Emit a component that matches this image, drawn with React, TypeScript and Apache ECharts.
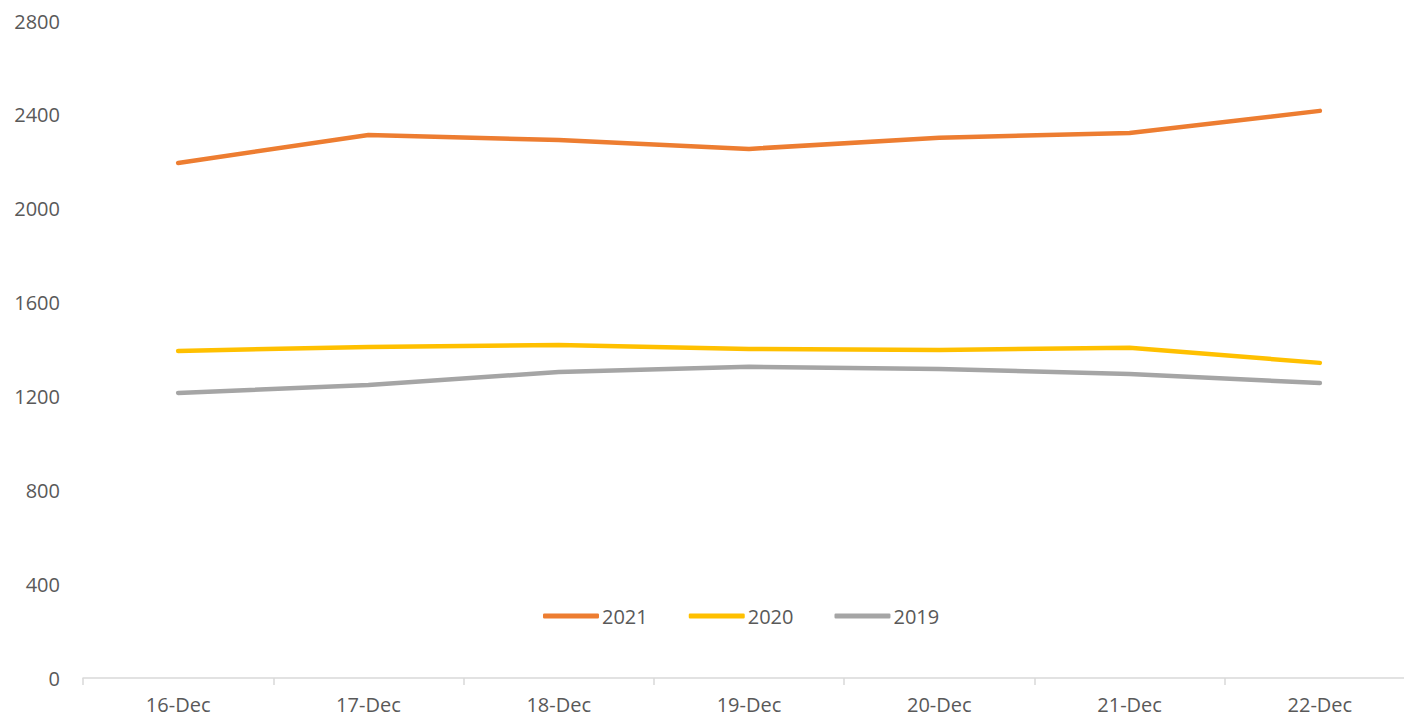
import React, { useEffect, useRef } from "react";
import * as echarts from "echarts";

const categories = ["16-Dec", "17-Dec", "18-Dec", "19-Dec", "20-Dec", "21-Dec", "22-Dec"];
const s2021 = [2195, 2314, 2293, 2255, 2302, 2323, 2417];
const s2020 = [1394, 1411, 1419, 1402, 1398, 1407, 1343];
const s2019 = [1215, 1249, 1304, 1326, 1317, 1296, 1257];
const yTicks = [0, 400, 800, 1200, 1600, 2000, 2400, 2800];

const FONT = "'Open Sans', 'Liberation Sans', sans-serif";
const TXT = "#595959";

export default function App() {
  const ref = useRef<HTMLDivElement>(null);
  useEffect(() => {
    if (!ref.current) return;
    const chart = echarts.init(ref.current, undefined, { renderer: "svg" });
    const mk = (name: string, data: number[], color: string) => ({
      name,
      type: "line",
      data,
      symbol: "none",
      smooth: false,
      lineStyle: { color, width: 4.5, cap: "round", join: "round" },
      itemStyle: { color },
    });
    chart.setOption({
      animation: false,
      backgroundColor: "#ffffff",
      textStyle: { fontFamily: FONT },
      grid: { left: 83, top: 21, width: 1332, height: 657, containLabel: false },
      legend: {
        data: ["2021", "2020", "2019"],
        left: 538,
        top: 601,
        icon: "roundRect",
        itemWidth: 56,
        itemHeight: 5,
        itemGap: 41,
        textStyle: { color: TXT, fontSize: 20, fontFamily: FONT, padding: [0, 0, 0, -2] },
      },
      xAxis: {
        type: "category",
        data: categories,
        boundaryGap: true,
        axisLine: { show: true, lineStyle: { color: "#d9d9d9", width: 1.5 } },
        axisTick: { show: true, length: 7, lineStyle: { color: "#d9d9d9", width: 1.5 } },
        axisLabel: { color: TXT, fontSize: 20, lineHeight: 20, fontFamily: FONT, margin: 16 },
        splitLine: { show: false },
      },
      yAxis: {
        type: "value",
        min: yTicks[0],
        max: yTicks[yTicks.length - 1],
        interval: 400,
        axisLine: { show: false },
        axisTick: { show: false },
        splitLine: { show: false },
        axisLabel: { color: TXT, fontSize: 20, fontFamily: FONT, margin: 23, formatter: (v: number) => String(v) },
      },
      series: [
        mk("2021", s2021, "#ED7D31"),
        mk("2020", s2020, "#FFC000"),
        mk("2019", s2019, "#A5A5A5"),
      ],
    });
    return () => chart.dispose();
  }, []);
  return (
    <div style={{ width: 1404, height: 718, position: "absolute", left: 0, top: 0, overflow: "hidden", background: "#fff" }}>
      <div ref={ref} style={{ width: 1430, height: 718 }} />
    </div>
  );
}
